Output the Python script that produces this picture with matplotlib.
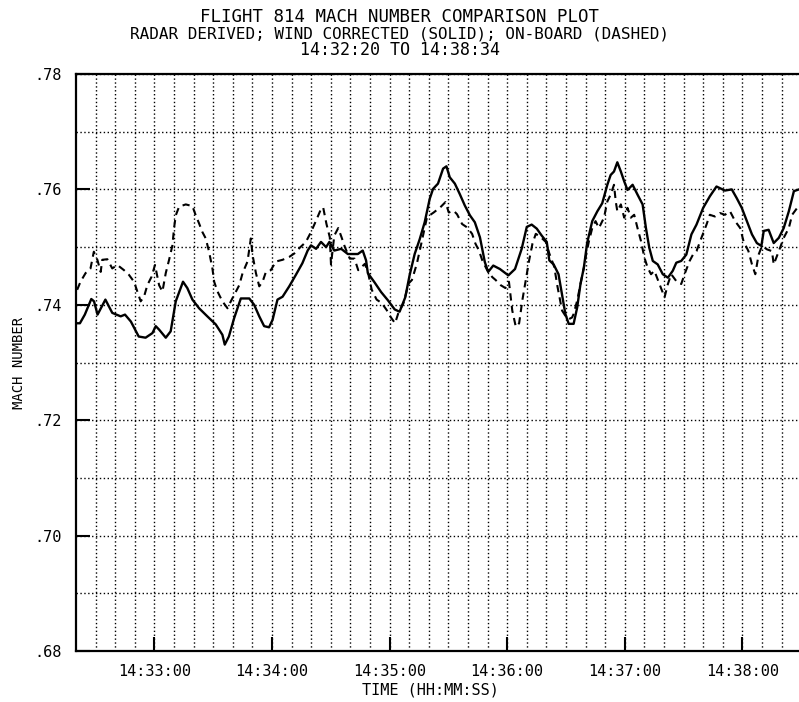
import matplotlib.pyplot as plt

# seconds after 14:32:20
T0 = 14 * 3600 + 32 * 60 + 20
T_END = 374  # 14:38:34

radar_t = [0, 2, 4.5, 7.8, 9.2, 11, 15, 18.5, 22.8, 25, 28, 32, 35.5, 39, 40.7,
           42.4, 45.8, 48.3, 50.9, 54.6, 56.8, 59.4, 62.8, 67, 71.3, 74.7, 75.9,
           78, 80.7, 84.1, 88.4, 90.9, 93.5, 96, 98.5, 100.3, 102.8, 105.4,
           108.8, 112.2, 115.5, 118.2, 119.9, 122.5, 125, 127.6, 129.3, 131.8,
           135.3, 138.7, 143.8, 146.3, 148, 148.9, 152.3, 155.7, 159.1, 162.6,
           165.1, 166.5, 168, 170.2, 172.8, 175.4, 177.9, 180.5, 182.2, 184.7,
           187.3, 189, 190.7, 193.3, 195.8, 198.4, 201, 203.5, 206.1, 208.6,
           210.3, 212.9, 216.3, 220.6, 224, 227.4, 230, 232.5, 235.1, 237.6,
           240.2, 241.5, 243.7, 246.2, 248, 249.7, 251.4, 253.9, 255.7, 257.4,
           259.1, 260.8, 263.4, 266, 268.5, 271.1, 272.8, 274.5, 276.2, 278,
           279.7, 281.4, 284, 286.5, 289.1, 290.8, 292.5, 294.3, 296.8, 299.4,
           302, 304.5, 306.3, 308.8, 311.4, 314, 316.6, 320, 323.4, 326.8,
           328.6, 331.1, 334.6, 337.1, 339.7, 342.3, 344.9, 347.4, 349.7, 350.9,
           353.4, 356, 358.6, 361.1, 363.7, 366.3, 368.9, 374]
radar_mach = [.7368, .7368, .7383, .7410, .7406, .7383, .7409, .7386, .7380,
              .7383, .7371, .7345, .7343, .7351, .7363, .7357, .7343, .7354,
              .7406, .7440, .7429, .7409, .7394, .7380, .7366, .7348, .7331,
              .7345, .7377, .7411, .7411, .7400, .7380, .7363, .7361, .7374,
              .7409, .7414, .7432, .7452, .7472, .7494, .7503, .7497, .7509,
              .7500, .7509, .7494, .7497, .7488, .7488, .7494, .7477, .7455,
              .7439, .7422, .7408, .7392, .7388, .7400, .7413, .7451, .7488,
              .7514, .7543, .7584, .7601, .7610, .7636, .7640, .7621, .7610,
              .7592, .7572, .7555, .7543, .7517, .7474, .7457, .7468, .7462,
              .7451, .7462, .7497, .7535, .7539, .7532, .7520, .7509, .7477,
              .7470, .7453, .7418, .7384, .7367, .7367, .7395, .7436, .7464,
              .7507, .7545, .7562, .7576, .7608, .7625, .7631, .7647, .7631,
              .7614, .7599, .7608, .7591, .7574, .7533, .7499, .7476, .7470,
              .7453, .7447, .7459, .7473, .7476, .7487, .7522, .7539, .7568,
              .7588, .7605, .7602, .7598, .7600, .7585, .7568, .7545, .7522,
              .7507, .7502, .7528, .7530, .7507, .7516, .7533, .7562, .7597,
              .7600, .7600]

onboard_t = [0.6, 2.3, 4.9, 7.4, 9.1, 10.9, 12.6, 13.4, 16, 18.5, 21.1, 24.5,
             27, 29.6, 31.3, 33, 34.7, 36.4, 38.6, 40.3, 42.4, 44.1, 45.8, 47.5,
             49.2, 50, 50.9, 52.6, 56, 59.4, 61.1, 62.8, 64.5, 66.2, 67.9, 69.6,
             70.5, 72.2, 74.7, 77.3, 79, 80.7, 83.3, 85, 87.5, 89.2, 90.1, 91.8,
             93.5, 95.2, 96.9, 99.4, 102, 105.4, 108.8, 111.4, 113.9, 117.3,
             119.9, 122.5, 125, 126.1, 127.8, 129.5, 130.1, 131.8, 133.8, 135.5,
             137.2, 139.7, 142.1, 144, 147.4, 149.1, 150.9, 153.4, 156, 158.5,
             160.3, 162.8, 164.5, 167.1, 169.7, 171.4, 173.9, 176.5, 179.1,
             182.5, 185.9, 188.5, 190.2, 192.7, 194.4, 197, 199.6, 202.1, 203.8,
             205.6, 207.3, 209.8, 212.4, 214.1, 216.7, 219.1, 220.9, 222.6,
             224.4, 226.1, 227.8, 229.5, 231.2, 232.9, 234.6, 237.2, 239.7,
             241.5, 244, 245.7, 248, 249.7, 251.4, 253.1, 253.9, 255.7, 257.4,
             259.1, 260, 261.7, 263.4, 265.1, 266.8, 269.4, 271.1, 272.8, 274.5,
             275.4, 276.2, 278, 279.7, 281.4, 283.1, 284.8, 286.5, 288.3, 290,
             291.7, 293.4, 295.1, 297.7, 300.3, 302, 303.7, 306.3, 308.8, 310.5,
             313.1, 314.8, 316.6, 319.1, 321.7, 323.4, 326, 328.6, 331.1, 333.7,
             336.3, 338.9, 340.6, 343.1, 344.9, 346.6, 348.3, 350, 352.6, 355.1,
             356, 358.6, 361.1, 363.7, 365.4, 368, 372]
onboard_mach = [.7426, .7440, .7455, .7463, .7492, .7478, .7457, .7478, .7479,
                .7463, .7469, .7460, .7452, .7440, .7423, .7406, .7414, .7434,
                .7449, .7469, .7434, .7423, .7455, .7478, .7503, .7532, .7555,
                .7570, .7574, .7571, .7555, .7541, .7526, .7515, .7492, .7463,
                .7440, .7423, .7406, .7394, .7406, .7417, .7434, .7455, .7475,
                .7515, .7486, .7455, .7432, .7440, .7457, .7460, .7475, .7478,
                .7483, .7489, .7498, .7509, .7526, .7546, .7566, .7569, .7540,
                .7517, .7470, .7520, .7533, .7517, .7500, .7480, .7480, .7460,
                .7471, .7454, .7426, .7409, .7403, .7391, .7380, .7368, .7386,
                .7403, .7437, .7443, .7471, .7511, .7552, .7560, .7569, .7578,
                .7560, .7563, .7557, .7540, .7534, .7523, .7506, .7494, .7477,
                .7460, .7448, .7443, .7434, .7429, .7440, .7390, .7362, .7368,
                .7409, .7443, .7477, .7506, .7523, .7517, .7509, .7489, .7466,
                .7431, .7390, .7381, .7375, .7378, .7384, .7407, .7436, .7464,
                .7482, .7510, .7533, .7545, .7533, .7551, .7579, .7591, .7608,
                .7579, .7562, .7574, .7551, .7568, .7551, .7556, .7533, .7510,
                .7482, .7464, .7453, .7459, .7436, .7413, .7436, .7453, .7441,
                .7436, .7453, .7476, .7487, .7493, .7516, .7539, .7556, .7553,
                .7559, .7556, .7562, .7545, .7533, .7510, .7493, .7470, .7453,
                .7487, .7502, .7496, .7493, .7470, .7493, .7516, .7533, .7556,
                .7568, .7560]

minute_ticks = list(range(40, T_END, 60))
ten_sec_ticks = list(range(10, T_END, 10))
mach_ticks = [.68, .70, .72, .74, .76, .78]
mach_minor = [.69, .71, .73, .75, .77]


def hms(sec):
    s = int(round(T0 + sec))
    return f"{s // 3600}:{s // 60 % 60:02d}:{s % 60:02d}"


plt.rcParams['font.family'] = ['DejaVu Sans Mono']

fig = plt.figure(figsize=(7.99, 7.02), dpi=100)
ax = fig.add_axes([76 / 799, 51 / 702, 733 / 799, 577 / 702])

dots = (0, (1, 1.8))
ax.set_xticks(minute_ticks)
ax.set_xticks(ten_sec_ticks, minor=True)
ax.set_yticks(mach_ticks)
ax.set_yticks(mach_minor, minor=True)
ax.grid(which='both', color='black', linestyle=dots, linewidth=1.0)

ax.plot(radar_t, radar_mach, color='black', linewidth=1.7)
ax.plot(onboard_t, onboard_mach, color='black', linewidth=1.5, dashes=(3.5, 2.5))

ax.set_xlim(0, T_END)
ax.set_ylim(.68, .78)
ax.set_xticklabels([hms(t) for t in minute_ticks])
ax.set_yticklabels([f"{v:.2f}".lstrip("0") for v in mach_ticks])

ax.tick_params(which='major', direction='in', length=10, width=1.5,
               labelsize=11, top=False, right=False)
ax.tick_params(axis='x', pad=9)
ax.tick_params(axis='y', pad=10)
ax.tick_params(which='minor', length=0)
for side in ['left', 'bottom', 'top']:
    ax.spines[side].set_linewidth(1.6)
ax.spines['right'].set_visible(False)

ax.set_xlabel('TIME (HH:MM:SS)', fontsize=11)
ax.xaxis.set_label_coords(0.484, -0.055)
ax.set_ylabel('MACH NUMBER', fontsize=10)
ax.yaxis.set_label_coords(-0.068, 0.5)

fig.text(0.5, 1 - 17 / 702, 'FLIGHT 814 MACH NUMBER COMPARISON PLOT',
         ha='center', va='center', fontsize=12.5)
fig.text(0.5, 1 - 34 / 702,
         'RADAR DERIVED; WIND CORRECTED (SOLID); ON-BOARD (DASHED)',
         ha='center', va='center', fontsize=11.5)
fig.text(0.5, 1 - 50 / 702, '14:32:20 TO 14:38:34',
         ha='center', va='center', fontsize=12)

fig.savefig('out.png', dpi=100)
